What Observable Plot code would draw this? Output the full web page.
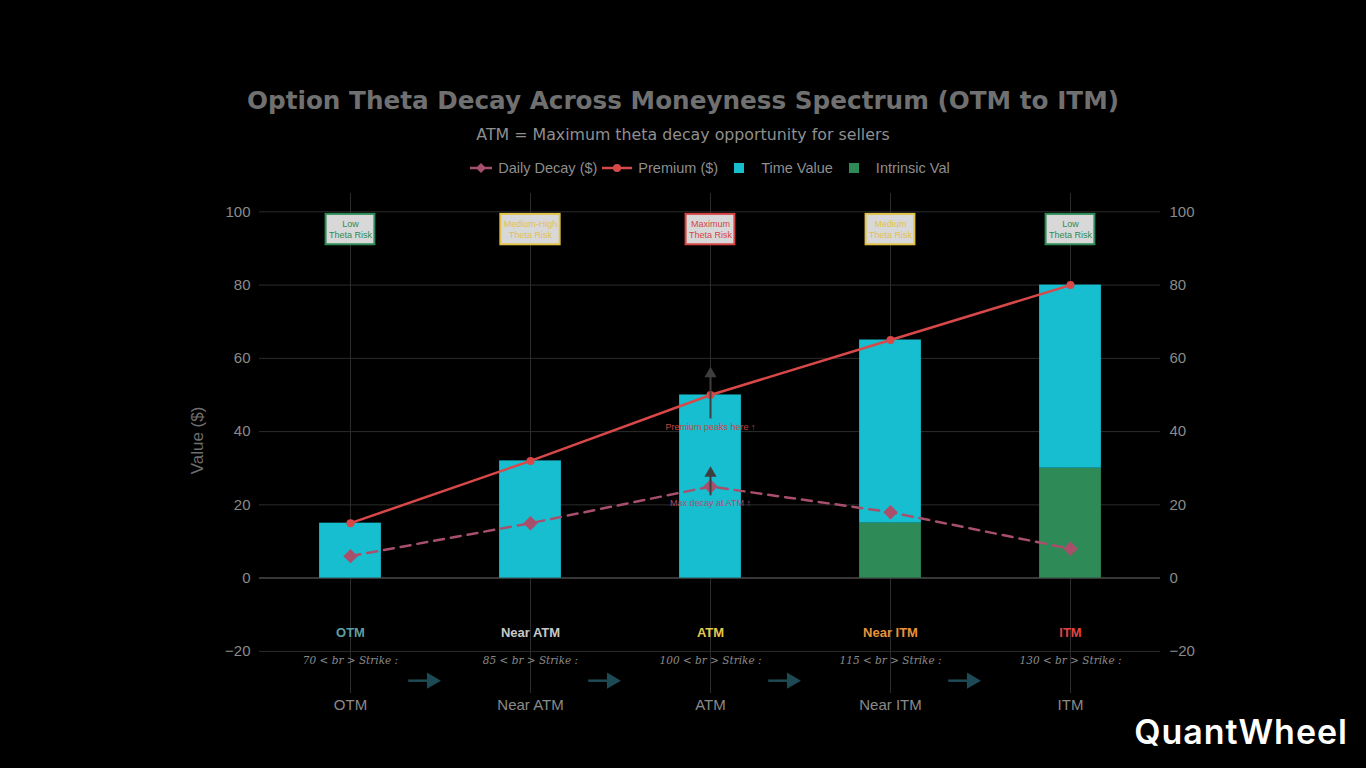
<!DOCTYPE html>
<html>
<head>
<meta charset="utf-8">
<script src="https://cdn.jsdelivr.net/npm/d3@7"></script>
<script src="https://cdn.jsdelivr.net/npm/@observablehq/plot@0.6"></script>
<style>
  html, body { margin: 0; padding: 0; background: #000; }
  #wrap { position: relative; width: 1366px; height: 768px; overflow: hidden; background: #000; }
  #chart { position: absolute; left: 0; top: 0; }
  .title { position: absolute; left: 0; width: 1366px; text-align: center; font-family: "DejaVu Sans", sans-serif; }
  #t1 { top: 86px; font-size: 24.7px; font-weight: bold; color: #707070; }
  #t2 { top: 125px; font-size: 15.8px; color: #8f8f8f; }
  #legend { position: absolute; top: 160px; left: 259px; width: 901px; display: flex; justify-content: center; align-items: center;
            font-family: "Liberation Sans", Arial, sans-serif; font-size: 14.5px; color: #8e8e8e; }
  #legend .item { display: flex; align-items: center; margin: 0 2px; }
  #legend svg { margin-right: 5px; }
  #brand { position: absolute; right: 18px; top: 711px; font-family: Inter, sans-serif; font-weight: 600; font-size: 34px; color: #fff; letter-spacing: 1px; }
</style>
</head>
<body>
<div id="wrap">
  <div id="chart"></div>
  <div class="title" id="t1">Option Theta Decay Across Moneyness Spectrum (OTM to ITM)</div>
  <div class="title" id="t2">ATM = Maximum theta decay opportunity for sellers</div>
  <div id="legend"></div>
  <div id="brand">QuantWheel</div>
</div>
<script>
// Moneyness buckets, left (OTM) to right (ITM)
const categories = ["OTM", "Near ATM", "ATM", "Near ITM", "ITM"];
const strikes = [70, 85, 100, 115, 130];
const timeValue = [15, 32, 50, 50, 50];
const intrinsicValue = [0, 0, 0, 15, 30];
const premium = [15, 32, 50, 65, 80];
const dailyDecay = [6, 15, 25, 18, 8];
const riskLevel = ["Low", "Medium-High", "Maximum", "Medium", "Low"];
const yTicks = [-20, 0, 20, 40, 60, 80, 100];

const W = 1366, H = 768;
const margin = {top: 193, right: 206, bottom: 75, left: 259};
const band = (W - margin.left - margin.right) / categories.length;

const riskColor = {"Low": "#2e8b57", "Medium-High": "#e3c34a", "Maximum": "#d64545", "Medium": "#e3c34a"};
const labelColor = ["#5f9ea0", "#c8c8c8", "#e6c84a", "#e8923a", "#e04545"];

const rows = categories.map((c, i) => ({
  cat: c, strike: strikes[i], time: timeValue[i], intrinsic: intrinsicValue[i],
  premium: premium[i], decay: dailyDecay[i], risk: riskLevel[i]
}));
const stacked = [
  ...rows.map(d => ({cat: d.cat, part: "Intrinsic Val", y1: 0, y2: d.intrinsic})),
  ...rows.map(d => ({cat: d.cat, part: "Time Value", y1: d.intrinsic, y2: d.intrinsic + d.time}))
];

// box widths follow the label text
const ctx = document.createElement("canvas").getContext("2d");
ctx.font = "9px 'Liberation Sans', Arial";
const boxWidth = r => Math.max(ctx.measureText(r).width, ctx.measureText("Theta Risk").width) + 6;

const boxMarks = rows.map(d => {
  const inset = (band - boxWidth(d.risk)) / 2;
  return Plot.rect([d], {
    x: "cat", y1: 91, y2: 99.3, inset: 0, insetLeft: inset, insetRight: inset,
    fill: "#d8d8d8", stroke: riskColor[d.risk], strokeWidth: 2
  });
});

// flow arrows sit at the right edge of each bucket, pointing to the next one
const flowColor = "#1d4a54";
const flow = rows.slice(0, -1);

const chart = Plot.plot({
  width: W, height: H,
  marginTop: margin.top, marginRight: margin.right, marginBottom: margin.bottom, marginLeft: margin.left,
  style: {background: "#000", fontFamily: "'Liberation Sans', Arial, sans-serif"},
  x: {type: "band", domain: categories, padding: 0, axis: null},
  y: {domain: [-31.5, 105], axis: null},
  marks: [
    // grid
    Plot.ruleY(yTicks.filter(t => t !== 0), {stroke: "#2c2c2c", strokeWidth: 1}),
    Plot.ruleX(categories, {stroke: "#2c2c2c", strokeWidth: 1}),
    Plot.ruleY([0], {stroke: "#4a4a4a", strokeWidth: 1.5}),
    // axes
    Plot.axisY(yTicks, {anchor: "left", tickSize: 0, tickPadding: 9, fontSize: 15, fill: "#8a8a8a", label: null}),
    Plot.axisY(yTicks, {anchor: "right", tickSize: 0, tickPadding: 9, fontSize: 15, fill: "#8a8a8a", label: null}),
    Plot.axisX({tickSize: 0, tickPadding: 6, fontSize: 15, fill: "#8a8a8a", label: null}),
    Plot.text(["Value ($)"], {frameAnchor: "left", dx: -62, dy: -3, rotate: -90, textAnchor: "middle",
      fontSize: 17, fill: "#6e6e6e"}),
    // stacked bars
    Plot.rectY(stacked.filter(d => d.y2 > d.y1), {
      x: "cat", y1: "y1", y2: "y2", inset: 0, insetLeft: (band - 62) / 2, insetRight: (band - 62) / 2,
      fill: d => d.part === "Time Value" ? "#17becf" : "#2e8b57"
    }),
    // premium line
    Plot.line(rows, {x: "cat", y: "premium", stroke: "#d94848", strokeWidth: 2.5}),
    Plot.dot(rows, {x: "cat", y: "premium", r: 4, fill: "#d94848"}),
    // daily decay line
    Plot.line(rows, {x: "cat", y: "decay", stroke: "#a84f6c", strokeWidth: 2.5, strokeDasharray: "10,7"}),
    Plot.dot(rows, {x: "cat", y: "decay", symbol: "diamond2", r: 6.5, fill: "#a84f6c"}),
    // risk boxes
    ...boxMarks,
    Plot.text(rows, {x: "cat", y: 95.2, text: d => d.risk + "\nTheta Risk", lineHeight: 1.2, fontSize: 9,
      fill: d => riskColor[d.risk]}),
    // ATM callouts
    Plot.link([rows[2]], {x1: "cat", x2: "cat", y1: 43.6, y2: 55, stroke: "#3e3e3e", strokeWidth: 2}),
    Plot.dot([rows[2]], {x: "cat", y: 55.8, symbol: "triangle", r: 4.5, fill: "#3e3e3e"}),
    Plot.text([rows[2]], {x: "cat", y: 41.1, text: () => "Premium peaks here ↑", fontSize: 9, fill: "#c84444"}),
    Plot.link([rows[2]], {x1: "cat", x2: "cat", y1: 22.6, y2: 28, stroke: "#3e3e3e", strokeWidth: 2}),
    Plot.dot([rows[2]], {x: "cat", y: 28.6, symbol: "triangle", r: 4.5, fill: "#3e3e3e"}),
    Plot.text([rows[2]], {x: "cat", y: 20.4, text: () => "Max decay at ATM ↑", fontSize: 9, fill: "#a84f6c"}),
    // bucket labels under the zero line
    Plot.text(rows, {x: "cat", y: -15, text: "cat", fontSize: 13, fontWeight: "bold",
      fill: d => labelColor[categories.indexOf(d.cat)]}),
    Plot.text(rows, {x: "cat", y: -22.5, text: d => `${d.strike} < br > Strike :`, fontSize: 10.5,
      fontFamily: "'DejaVu Serif', serif", fontStyle: "italic", fill: "#8a8a8a"}),
    // flow arrows: shaft + filled head
    Plot.tickY(flow, {x: "cat", y: -28, stroke: flowColor, strokeWidth: 2.5,
      insetLeft: band - 32, insetRight: 12}),
    Plot.dot(flow, {x: "cat", y: -28, symbol: "triangle", rotate: 90, r: 6, fill: flowColor,
      dx: band / 2 - 9})
  ]
});
document.getElementById("chart").appendChild(chart);

// legend
const legendItems = [
  {label: "Daily Decay ($)", kind: "diamond", color: "#a84f6c"},
  {label: "Premium ($)", kind: "dot", color: "#d94848"},
  {label: "Time Value", kind: "square", color: "#17becf"},
  {label: "Intrinsic Val", kind: "square", color: "#2e8b57"}
];
const legend = document.getElementById("legend");
for (const it of legendItems) {
  const item = document.createElement("div");
  item.className = "item";
  let icon;
  if (it.kind === "square") {
    icon = `<svg width="34" height="14"><rect x="12" y="2" width="10" height="10" fill="${it.color}"/></svg>`;
  } else if (it.kind === "dot") {
    icon = `<svg width="32" height="14"><line x1="1" y1="7" x2="31" y2="7" stroke="${it.color}" stroke-width="2.5"/><circle cx="16" cy="7" r="4" fill="${it.color}"/></svg>`;
  } else {
    icon = `<svg width="24" height="14"><line x1="1" y1="7" x2="23" y2="7" stroke="${it.color}" stroke-width="2.5"/><path d="M12,2 L17,7 L12,12 L7,7 Z" fill="${it.color}"/></svg>`;
  }
  item.innerHTML = icon + `<span>${it.label}</span>`;
  legend.appendChild(item);
}
</script>
</body>
</html>
